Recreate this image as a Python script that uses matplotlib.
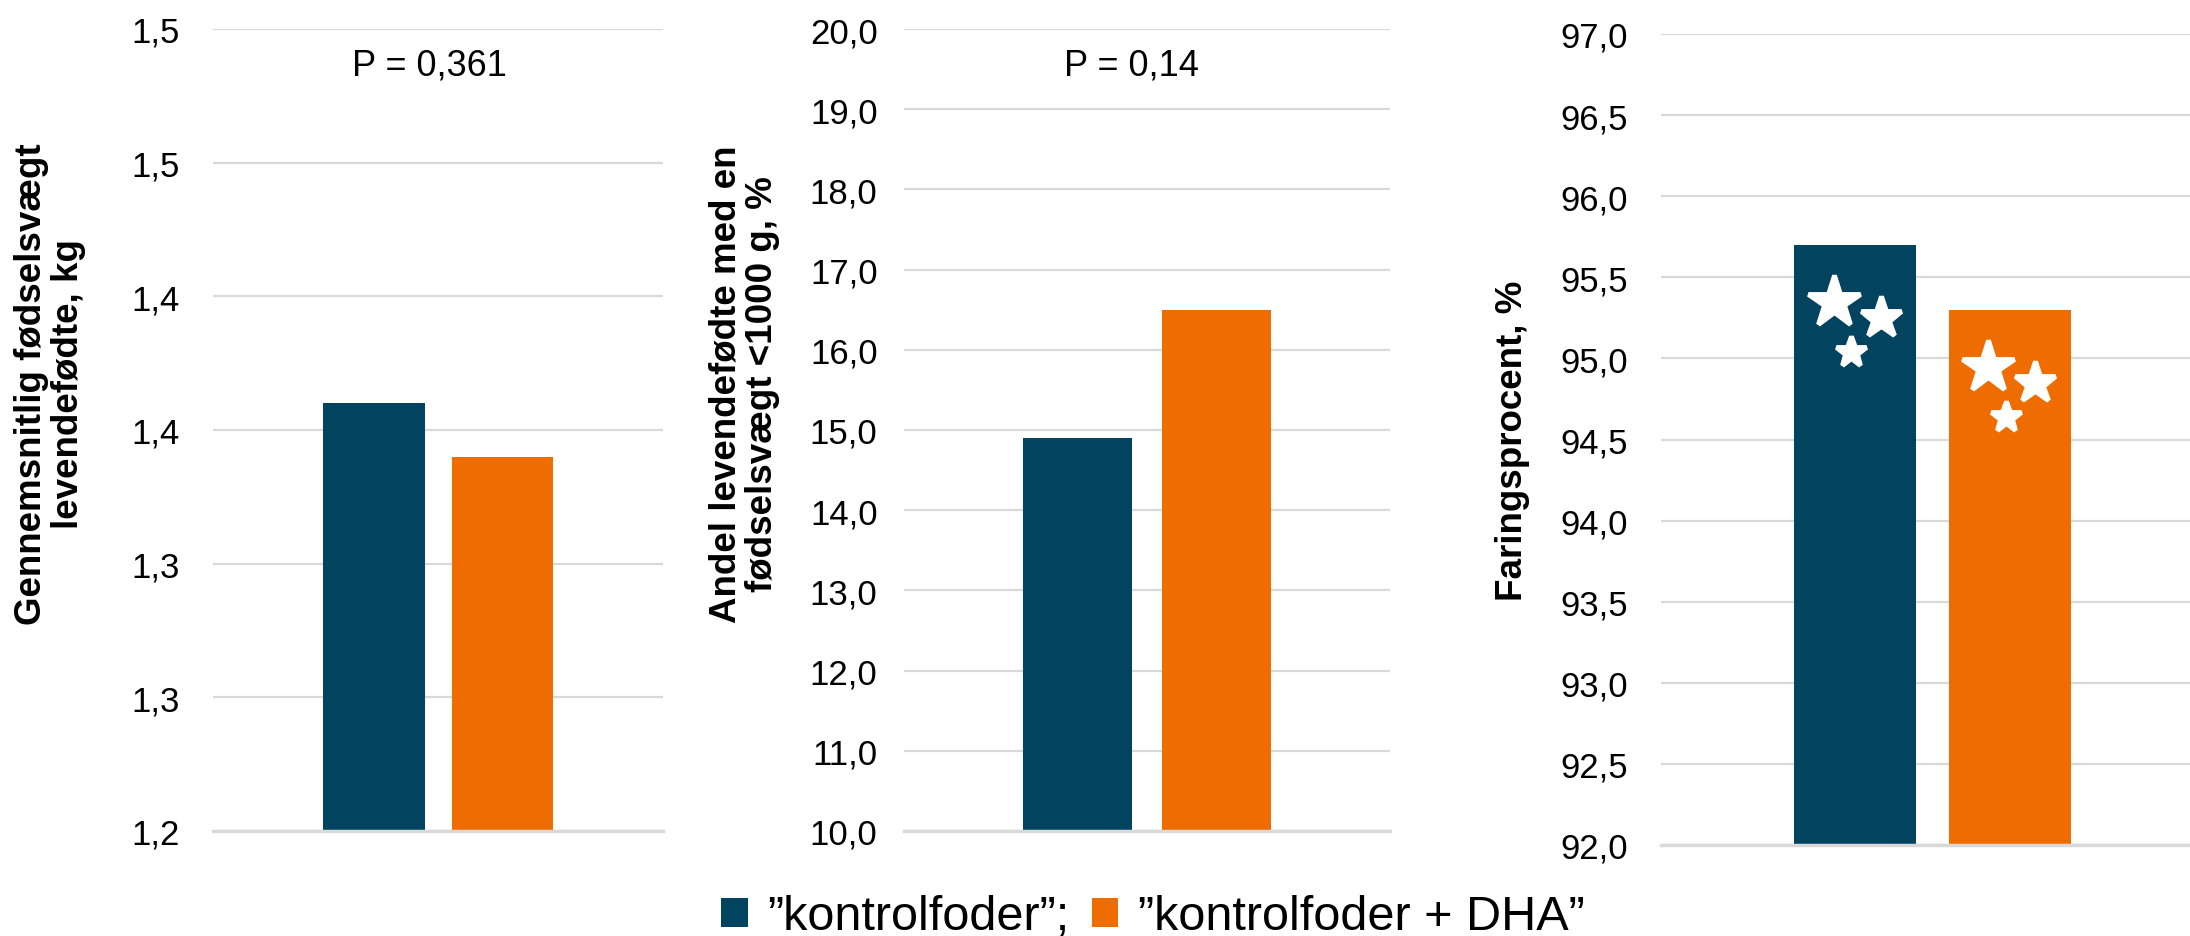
import matplotlib
matplotlib.use('Agg')
import matplotlib.pyplot as plt
from matplotlib.patches import Patch

plt.rcParams['font.family'] = ['Liberation Sans', 'DejaVu Sans']

# Data: control feed vs control feed + DHA
groups = ['\u201dkontrolfoder\u201d;', '\u201dkontrolfoder + DHA\u201d']
colors = ['#02445F', '#EF6C00']

weight_kg = [1.36, 1.34]
weight_ticks = [1.20, 1.25, 1.30, 1.35, 1.40, 1.45, 1.50]
weight_ticklabels = ['1,2', '1,3', '1,3', '1,4', '1,4', '1,5', '1,5']
weight_p = 'P = 0,361'

light_pct = [14.9, 16.5]
light_ticks = [10, 11, 12, 13, 14, 15, 16, 17, 18, 19, 20]
light_p = 'P = 0,14'

farrow_pct = [95.7, 95.3]
farrow_ticks = [92.0, 92.5, 93.0, 93.5, 94.0, 94.5, 95.0, 95.5, 96.0, 96.5, 97.0]

W, H = 2190, 937
fig = plt.figure(figsize=(W / 100, H / 100), dpi=100)


def px_axes(left, right, top, bottom):
    return fig.add_axes([left / W, 1 - bottom / H, (right - left) / W, (bottom - top) / H])


def comma(v):
    return f'{v:.1f}'.replace('.', ',')


def style(ax, values, ticks, labels, pad):
    xs = [-0.285, 0.285]
    bars = ax.bar(xs, values, width=0.45, color=colors, zorder=2)
    ax.set_xlim(-1, 1)
    ax.set_ylim(ticks[0], ticks[-1])
    ax.set_yticks(ticks)
    ax.set_yticklabels(labels)
    ax.set_xticks([])
    ax.grid(axis='y', color='#d9d9d9', linewidth=1.6, zorder=0)
    for s in ['top', 'right', 'left']:
        ax.spines[s].set_visible(False)
    ax.spines['bottom'].set_color('#d9d9d9')
    ax.spines['bottom'].set_linewidth(2.5)
    ax.tick_params(axis='y', length=0, pad=pad, labelsize=25)
    return bars


ax1 = px_axes(213, 663, 30, 832)
style(ax1, weight_kg, weight_ticks, weight_ticklabels, 24)
ax1.text(0.48, 0.955, weight_p, transform=ax1.transAxes, ha='center', va='center', fontsize=26)

ax2 = px_axes(904, 1390, 30, 832)
style(ax2, light_pct, light_ticks, [comma(t) for t in light_ticks], 19)
ax2.text(0.467, 0.955, light_p, transform=ax2.transAxes, ha='center', va='center', fontsize=26)

ax3 = px_axes(1661, 2204, 35, 846)
bars3 = style(ax3, farrow_pct, farrow_ticks, [comma(t) for t in farrow_ticks], 24)

# white stars on the farrowing-rate bars
stars = [(-0.079, -0.35, 39), (0.094, -0.45, 31), (-0.016, -0.66, 23)]
for b in bars3:
    cx = b.get_x() + b.get_width() / 2
    top = b.get_height()
    for dx, dy, ms in stars:
        ax3.plot(cx + dx, top + dy, marker='*', markersize=ms, color='white',
                 markeredgecolor='white', markeredgewidth=3.5, zorder=3,
                 solid_joinstyle='round')

# y-axis titles
ylab = dict(rotation=90, ha='center', va='center', fontsize=26.5,
            fontweight='bold', multialignment='center', linespacing=1.05)
fig.text(50 / W, 1 - 384 / H, 'Gennemsnitlig fødselsvægt\nlevendefødte, kg', **ylab)
fig.text(744 / W, 1 - 384 / H, 'Andel levendefødte med en\nfødselsvægt <1000 g, %', **ylab)
fig.text(1513 / W, 1 - 441 / H, 'Faringsprocent, %', **ylab)

handles = [Patch(facecolor=c) for c in colors]
fig.legend(handles, groups, loc='center', bbox_to_anchor=(1153 / W, 1 - 918 / H),
           ncol=2, frameon=False, fontsize=35, handlelength=0.55, handleheight=0.55,
           handletextpad=0.4, columnspacing=0.45, borderpad=0)

fig.savefig('out.png', dpi=100)
